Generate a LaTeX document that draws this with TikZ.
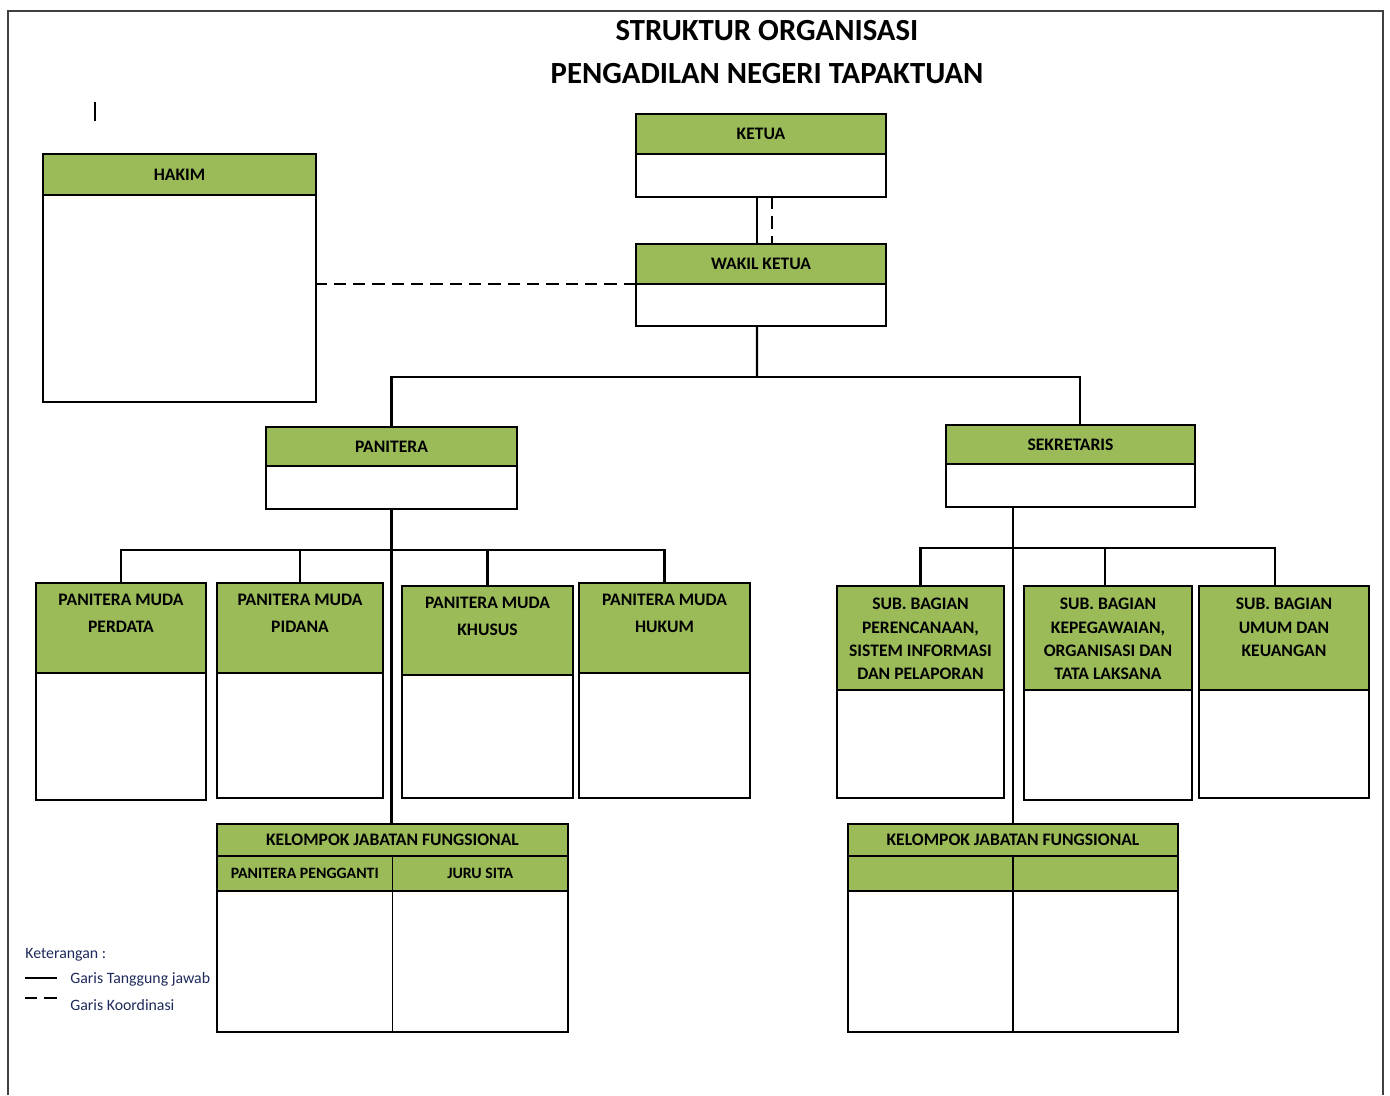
\documentclass[tikz,border=0pt]{standalone}
\usepackage{fontspec}
\setmainfont{Carlito}
\usetikzlibrary{positioning}
\definecolor{ogreen}{HTML}{9BBB59}
\definecolor{legblue}{HTML}{1F2A5C}

\begin{document}
\begin{tikzpicture}

    \tikzset{
      hdr/.style={
        draw,
        fill=ogreen,
        line width=0.9pt,
        inner sep=0pt,
        outer sep=0pt,
        anchor=north west,
        align=center,
        font=\bfseries\fontsize{10}{13}\selectfont,
      },
      bodybox/.style={
        draw,
        fill=white,
        line width=0.9pt,
        inner sep=0pt,
        outer sep=0pt,
        anchor=north,
      },
      toptext/.style={
        inner sep=0pt,
        align=center,
        font=\bfseries\fontsize{10}{15}\selectfont,
      },
      link/.style={line width=1.2pt},
      koord/.style={line width=1.2pt, dash pattern=on 7pt off 4pt},
    }
    \useasboundingbox (0,0) rectangle (27.8,-21.9);
    \draw[line width=0.8pt, black!75] (0.16,-21.9) -- (0.16,-0.22) -- (27.66,-0.22) -- (27.66,-21.9);

    \node[align=center, font=\bfseries\fontsize{17.5}{24}\selectfont] (title) at (15.34,-1.04) {STRUKTUR ORGANISASI\\PENGADILAN NEGERI TAPAKTUAN};
    \draw[line width=1.2pt] (1.9,-2.04) -- (1.9,-2.42);

    % pimpinan
    \node[hdr, minimum width=5cm, minimum height=0.8cm] (ketua) at (12.72,-2.28) {KETUA};
    \node[bodybox, minimum width=5cm, minimum height=0.86cm] (ketua-b) at (ketua.south) {};
    \node[hdr, minimum width=5cm, minimum height=0.8cm] (wk) at (12.72,-4.88) {WAKIL KETUA};
    \node[bodybox, minimum width=5cm, minimum height=0.84cm] (wk-b) at (wk.south) {};
    \node[hdr, minimum width=5.46cm, minimum height=0.82cm] (hakim) at (0.86,-3.08) {HAKIM};
    \node[bodybox, minimum width=5.46cm, minimum height=4.14cm] (hakim-b) at (hakim.south) {};

    \node[hdr, minimum width=5.02cm, minimum height=0.78cm] (pan) at (5.32,-8.54) {PANITERA};
    \node[bodybox, minimum width=5.02cm, minimum height=0.86cm] (pan-b) at (pan.south) {};
    \node[hdr, minimum width=4.98cm, minimum height=0.78cm] (sek) at (18.92,-8.50) {SEKRETARIS};
    \node[bodybox, minimum width=4.98cm, minimum height=0.86cm] (sek-b) at (sek.south) {};

    % kepaniteraan
    \node[hdr, minimum width=3.40cm, minimum height=1.80cm, label={[toptext, anchor=north, yshift=-0.22cm]north:{PANITERA MUDA\\PERDATA}}] (pmp) at (0.72,-11.66) {};
    \node[bodybox, minimum width=3.40cm, minimum height=2.54cm] (pmp-b) at (pmp.south) {};
    \node[hdr, minimum width=3.32cm, minimum height=1.80cm, label={[toptext, anchor=north, yshift=-0.22cm]north:{PANITERA MUDA\\PIDANA}}] (pmpi) at (4.34,-11.66) {};
    \node[bodybox, minimum width=3.32cm, minimum height=2.50cm] (pmpi-b) at (pmpi.south) {};
    \node[hdr, minimum width=3.42cm, minimum height=1.78cm, label={[toptext, anchor=north, yshift=-0.22cm]north:{PANITERA MUDA\\KHUSUS}}] (pmk) at (8.04,-11.72) {};
    \node[bodybox, minimum width=3.42cm, minimum height=2.46cm] (pmk-b) at (pmk.south) {};
    \node[hdr, minimum width=3.42cm, minimum height=1.80cm, label={[toptext, anchor=north, yshift=-0.22cm]north:{PANITERA MUDA\\HUKUM}}] (pmh) at (11.58,-11.66) {};
    \node[bodybox, minimum width=3.42cm, minimum height=2.50cm] (pmh-b) at (pmh.south) {};

    % kesekretariatan
    \node[hdr, minimum width=3.34cm, minimum height=2.08cm, label={[toptext, font=\bfseries\fontsize{10}{13.2}\selectfont, anchor=north, yshift=-0.24cm]north:{SUB. BAGIAN\\PERENCANAAN,\\SISTEM INFORMASI\\DAN PELAPORAN}}] (sb1) at (16.74,-11.72) {};
    \node[bodybox, minimum width=3.34cm, minimum height=2.16cm] (sb1-b) at (sb1.south) {};
    \node[hdr, minimum width=3.36cm, minimum height=2.08cm, label={[toptext, font=\bfseries\fontsize{10}{13.2}\selectfont, anchor=north, yshift=-0.24cm]north:{SUB. BAGIAN\\KEPEGAWAIAN,\\ORGANISASI DAN\\TATA LAKSANA}}] (sb2) at (20.48,-11.72) {};
    \node[bodybox, minimum width=3.36cm, minimum height=2.20cm] (sb2-b) at (sb2.south) {};
    \node[hdr, minimum width=3.40cm, minimum height=2.08cm, label={[toptext, font=\bfseries\fontsize{10}{13.2}\selectfont, anchor=north, yshift=-0.24cm]north:{SUB. BAGIAN\\UMUM DAN\\KEUANGAN}}] (sb3) at (23.98,-11.72) {};
    \node[bodybox, minimum width=3.40cm, minimum height=2.16cm] (sb3-b) at (sb3.south) {};

    % jabatan fungsional
    \node[hdr, minimum width=7.02cm, minimum height=0.64cm] (kel1) at (4.34,-16.48) {KELOMPOK JABATAN FUNGSIONAL};
    \node[hdr, minimum width=3.51cm, minimum height=0.70cm, font=\bfseries\fontsize{9}{11}\selectfont] (pp) at (kel1.south west) {PANITERA PENGGANTI};
    \node[hdr, minimum width=3.51cm, minimum height=0.70cm, font=\bfseries\fontsize{9}{11}\selectfont] (js) at (pp.north east) {JURU SITA};
    \node[bodybox, minimum width=3.51cm, minimum height=2.82cm] (pp-b) at (pp.south) {};
    \node[bodybox, minimum width=3.51cm, minimum height=2.82cm] (js-b) at (js.south) {};

    \node[hdr, minimum width=6.60cm, minimum height=0.64cm] (kel2) at (16.96,-16.48) {KELOMPOK JABATAN FUNGSIONAL};
    \node[hdr, minimum width=3.30cm, minimum height=0.70cm] (fa) at (kel2.south west) {};
    \node[hdr, minimum width=3.30cm, minimum height=0.70cm] (fb) at (fa.north east) {};
    \node[bodybox, minimum width=3.30cm, minimum height=2.82cm] (fa-b) at (fa.south) {};
    \node[bodybox, minimum width=3.30cm, minimum height=2.82cm] (fb-b) at (fb.south) {};

    % garis
    \coordinate (tbus) at (15.14,-7.54);
    \coordinate (pbus) at (0,-11.0);
    \coordinate (sbus) at (0,-10.96);
    \draw[link] ([xshift=-0.08cm]ketua-b.south) -- ([xshift=-0.08cm]wk.north);
    \draw[koord] ([xshift=0.22cm]ketua-b.south) -- ([xshift=0.22cm]wk.north);
    \draw[koord] (wk.south west) -- (wk.south west -| hakim-b.east);
    \draw[link] ([xshift=-0.08cm]wk-b.south) -- (tbus);
    \draw[link] (pan.north) |- (tbus) -| ([xshift=0.19cm]sek.north);

    \draw[link] (pan-b.south) -- (pan-b.south |- kel1.north);
    \draw[link] (pmp.north) -- (pmp.north |- pbus) -- (pmh.north |- pbus) -- (pmh.north);
    \draw[link] (pmpi.north) -- (pmpi.north |- pbus);
    \draw[link] (pmk.north) -- (pmk.north |- pbus);

    \draw[link] (kel2.north) -- (kel2.north |- sek-b.south);
    \draw[link] (sb1.north) -- (sb1.north |- sbus) -- ([xshift=-0.18cm]sb3.north |- sbus) -- ([xshift=-0.18cm]sb3.north);
    \draw[link] ([xshift=-0.06cm]sb2.north) -- ([xshift=-0.06cm]sb2.north |- sbus);

    % keterangan
    \node[anchor=west, inner sep=0pt, text=legblue, font=\fontsize{9}{11}\selectfont] (ket) at (0.5,-19.1) {Keterangan :};
    \draw[line width=1.4pt] (0.5,-19.56) -- (1.14,-19.56);
    \node[anchor=west, inner sep=0pt, text=legblue, font=\fontsize{9}{11}\selectfont] (gtj) at (1.4,-19.58) {Garis Tanggung jawab};
    \draw[line width=1.4pt, dash pattern=on 7pt off 4pt] (0.5,-19.96) -- (1.14,-19.96);
    \node[anchor=west, inner sep=0pt, text=legblue, font=\fontsize{9}{11}\selectfont] (gk) at (1.4,-20.1) {Garis Koordinasi};

\end{tikzpicture}
\end{document}
